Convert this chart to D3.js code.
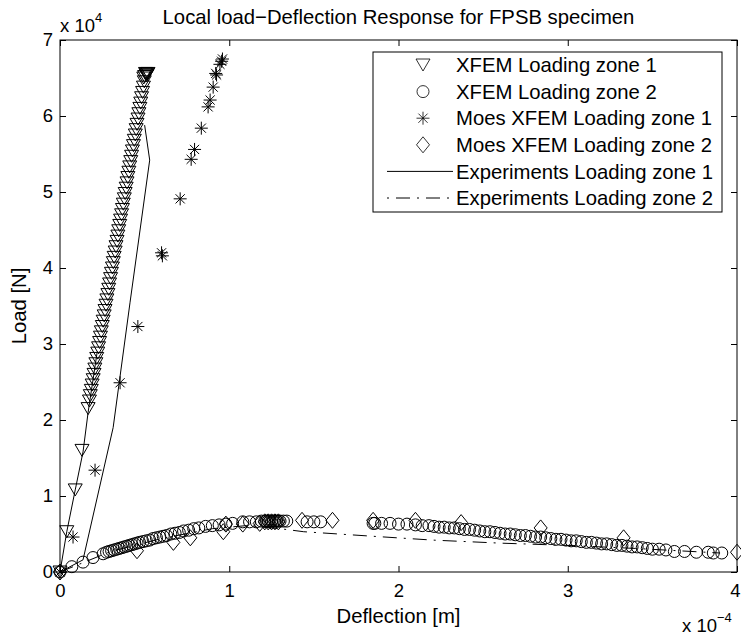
<!DOCTYPE html>
<html>
<head>
<meta charset="utf-8">
<script src="https://cdn.jsdelivr.net/npm/d3@7"></script>
<style>
  body { margin: 0; background: #fff; }
  text { font-family: "Liberation Sans", Arial, Helvetica, sans-serif; fill: #000; }
</style>
</head>
<body>
<svg id="chart" width="741" height="637"></svg>
<script>
// values (x in 1e-4 m, load in 1e4 N)
var xfem1X = [0, 0.04, 0.09, 0.13, 0.166,
  0.174, 0.179, 0.185, 0.190, 0.196, 0.201, 0.206, 0.212, 0.217, 0.223,
  0.228, 0.234, 0.239, 0.244, 0.250, 0.255, 0.261, 0.266, 0.272, 0.277,
  0.283, 0.288, 0.293, 0.299, 0.304, 0.310, 0.315, 0.320, 0.326, 0.331,
  0.337, 0.342, 0.347, 0.353, 0.358, 0.364, 0.369, 0.374, 0.380, 0.385,
  0.391, 0.396, 0.401, 0.407, 0.412, 0.418, 0.423, 0.428, 0.434, 0.439,
  0.445, 0.450, 0.455, 0.461, 0.466, 0.472, 0.477, 0.482, 0.488, 0.493,
  0.498, 0.50, 0.51, 0.52, 0.505, 0.515, 0.495, 0.512];
var xfem1Y = [0, 0.53, 1.08, 1.6, 2.15,
  2.25, 2.32, 2.39, 2.46, 2.53, 2.60, 2.67, 2.74, 2.81, 2.88,
  2.95, 3.02, 3.09, 3.16, 3.23, 3.30, 3.37, 3.44, 3.51, 3.58,
  3.65, 3.72, 3.79, 3.86, 3.93, 4.00, 4.07, 4.14, 4.21, 4.28,
  4.35, 4.42, 4.49, 4.56, 4.63, 4.70, 4.77, 4.84, 4.91, 4.98,
  5.05, 5.12, 5.19, 5.26, 5.33, 5.40, 5.47, 5.54, 5.61, 5.68,
  5.75, 5.82, 5.89, 5.96, 6.03, 6.10, 6.17, 6.24, 6.31, 6.38,
  6.45, 6.52, 6.55, 6.56, 6.56, 6.55, 6.5, 6.53];

var xfem2X = [0, 0.07, 0.136, 0.195, 0.255, 0.275, 0.29, 0.305, 0.32, 0.335,
  0.35, 0.365, 0.38, 0.395, 0.41, 0.425, 0.44, 0.455, 0.47, 0.49,
  0.51, 0.53, 0.55, 0.57, 0.59, 0.61, 0.63, 0.655, 0.68, 0.705,
  0.73, 0.76, 0.79, 0.82, 0.86, 0.9, 0.94, 0.98, 1.02, 1.08,
  1.12, 1.16, 1.19, 1.21, 1.22, 1.23, 1.24, 1.25, 1.26, 1.27,
  1.28, 1.29, 1.3, 1.32, 1.34, 1.46, 1.5, 1.54,
  1.85, 1.86, 1.9, 1.95, 2.0, 2.05, 2.1, 2.14, 2.18, 2.21,
  2.24, 2.27, 2.3, 2.33, 2.36, 2.39, 2.42, 2.45, 2.48, 2.51,
  2.54, 2.57, 2.6, 2.63, 2.66, 2.69, 2.72, 2.75, 2.78, 2.81,
  2.84, 2.87, 2.9, 2.93, 2.96, 2.99, 3.02, 3.05, 3.08, 3.11,
  3.14, 3.17, 3.2, 3.23, 3.26, 3.29, 3.32, 3.35, 3.38, 3.41,
  3.44, 3.47, 3.5, 3.54, 3.58, 3.63, 3.69, 3.76, 3.83, 3.86, 3.91];
var xfem2Y = [0, 0.07, 0.13, 0.19, 0.24, 0.26, 0.27, 0.28, 0.29, 0.3,
  0.31, 0.32, 0.33, 0.34, 0.35, 0.36, 0.37, 0.38, 0.39, 0.4,
  0.41, 0.42, 0.44, 0.45, 0.46, 0.47, 0.48, 0.5, 0.51, 0.52,
  0.54, 0.55, 0.57, 0.58, 0.6, 0.61, 0.62, 0.63, 0.64, 0.66,
  0.66, 0.66, 0.67, 0.67, 0.67, 0.67, 0.67, 0.67, 0.67, 0.67,
  0.67, 0.67, 0.67, 0.67, 0.67, 0.66, 0.66, 0.66,
  0.64, 0.64, 0.64, 0.64, 0.63, 0.63, 0.62, 0.61, 0.61, 0.6,
  0.59, 0.59, 0.58, 0.58, 0.57, 0.56, 0.56, 0.55, 0.54, 0.53,
  0.53, 0.52, 0.51, 0.5, 0.5, 0.49, 0.48, 0.48, 0.47, 0.46,
  0.46, 0.45, 0.44, 0.43, 0.43, 0.42, 0.41, 0.41, 0.4, 0.39,
  0.39, 0.38, 0.37, 0.37, 0.36, 0.35, 0.35, 0.34, 0.33, 0.33,
  0.32, 0.31, 0.3, 0.3, 0.29, 0.27, 0.27, 0.26, 0.26, 0.25, 0.25];

var moes1X = [0, 0.077, 0.207, 0.355, 0.46, 0.6, 0.605, 0.71, 0.775, 0.795,
  0.835, 0.875, 0.887, 0.905, 0.925, 0.92, 0.945, 0.955, 0.96];
var moes1Y = [0, 0.46, 1.34, 2.49, 3.23, 4.2, 4.16, 4.91, 5.43, 5.56,
  5.84, 6.12, 6.21, 6.38, 6.54, 6.56, 6.68, 6.72, 6.75];

var moes2X = [0, 0.455, 0.67, 0.77, 0.965, 0.98, 1.08, 1.18, 1.21, 1.23,
  1.25, 1.27, 1.29, 1.43, 1.61, 1.85, 2.1, 2.37, 2.84, 3.33, 4.0];
var moes2Y = [0, 0.28, 0.39, 0.45, 0.53, 0.63, 0.63, 0.64, 0.66, 0.66,
  0.66, 0.66, 0.66, 0.68, 0.68, 0.68, 0.68, 0.65, 0.58, 0.45, 0.26];

var exp1X = [0.5, 0.53, 0.414, 0.314, 0.136, 0, 0.04, 0.09, 0.136, 0.166, 0.22];
var exp1Y = [5.88, 5.42, 3.55, 1.9, 0.16, 0, 0.53, 1.08, 1.58, 2.1, 2.9];

var exp2X = [0, 0.3, 0.6, 0.9, 1.1, 1.3, 1.44, 1.85, 2.2, 2.6, 3.0, 3.4, 3.9];
var exp2Y = [0, 0.27, 0.44, 0.57, 0.61, 0.57, 0.53, 0.47, 0.42, 0.38, 0.35, 0.31, 0.25];

var xTicks = [0, 1, 2, 3, 4];
var yTicks = [0, 1, 2, 3, 4, 5, 6, 7];
var legendNames = ["XFEM Loading zone 1", "XFEM Loading zone 2", "Moes XFEM Loading zone 1",
  "Moes XFEM Loading zone 2", "Experiments Loading zone 1", "Experiments Loading zone 2"];

var svg = d3.select("#chart");
// plot box edges
var boxL = 60, boxR = 737, boxT = 40, boxB = 572;

var x = d3.scaleLinear().domain([0, 4]).range([boxL, boxR]);
var y = d3.scaleLinear().domain([0, 7]).range([boxB, boxT]);

function zip(xs, ys) {
  return xs.map(function(v, i) { return [v, ys[i]]; });
}

// marker shapes, MATLAB style
var markers = {
  tri: "M-7,-6L7,-6L0,6Z",
  circ: d3.symbol().type(d3.symbolCircle).size(Math.PI * 36)(),
  star: "M-6.5,0H6.5M0,-6.5V6.5M-4.6,-4.6L4.6,4.6M-4.6,4.6L4.6,-4.6",
  dia: "M0,-8L6.5,0L0,8L-6.5,0Z"
};

var tickFont = "18.5px";
var labelFont = "20.3px";

// axes with inward ticks
svg.append("g")
    .attr("transform", "translate(0," + boxB + ")")
    .call(d3.axisBottom(x).tickValues(xTicks).tickFormat(d3.format("d"))
        .tickSizeInner(-6).tickSizeOuter(0).tickPadding(12))
    .call(function(g) { g.select(".domain").remove(); })
    .call(function(g) {
      // keep the last label inside the window
      g.selectAll(".tick text").filter(function(d) { return d === 4; }).attr("dx", -2);
    });

svg.append("g")
    .attr("transform", "translate(" + boxL + ",0)")
    .call(d3.axisLeft(y).tickValues(yTicks).tickFormat(d3.format("d"))
        .tickSizeInner(-6).tickSizeOuter(0).tickPadding(7))
    .call(function(g) { g.select(".domain").remove(); });

svg.append("g")
    .attr("transform", "translate(0," + boxT + ")")
    .call(d3.axisTop(x).tickValues(xTicks).tickFormat("").tickSizeInner(-6).tickSizeOuter(0))
    .call(function(g) { g.select(".domain").remove(); });

svg.append("g")
    .attr("transform", "translate(" + boxR + ",0)")
    .call(d3.axisRight(y).tickValues(yTicks).tickFormat("").tickSizeInner(-6).tickSizeOuter(0))
    .call(function(g) { g.select(".domain").remove(); });

svg.selectAll(".tick text")
    .style("font-size", tickFont)
    .style("font-family", "'Liberation Sans', Arial, sans-serif")
    .attr("fill", "#000");
svg.selectAll(".tick line").attr("stroke", "#000");

svg.append("rect")
    .attr("x", boxL).attr("y", boxT)
    .attr("width", boxR - boxL).attr("height", boxB - boxT)
    .attr("fill", "none").attr("stroke", "#000").attr("stroke-width", 1);

// markers
var series = [
  { pts: zip(xfem1X, xfem1Y), m: markers.tri },
  { pts: zip(xfem2X, xfem2Y), m: markers.circ },
  { pts: zip(moes1X, moes1Y), m: markers.star },
  { pts: zip(moes2X, moes2Y), m: markers.dia }
];

var plot = svg.append("g");

series.forEach(function(s) {
  plot.append("g").selectAll("path")
      .data(s.pts)
      .enter()
      .append("path")
      .attr("d", s.m)
      .attr("transform", function(d) { return "translate(" + x(d[0]) + "," + y(d[1]) + ")"; })
      .attr("fill", "none")
      .attr("stroke", "#000")
      .attr("stroke-width", 1);
});

var line = d3.line()
    .x(function(d) { return x(d[0]); })
    .y(function(d) { return y(d[1]); });

plot.append("path")
    .datum(zip(exp1X, exp1Y))
    .attr("d", line)
    .attr("fill", "none").attr("stroke", "#000").attr("stroke-width", 1);

plot.append("path")
    .datum(zip(exp2X, exp2Y))
    .attr("d", line)
    .attr("fill", "none").attr("stroke", "#000").attr("stroke-width", 1)
    .attr("stroke-dasharray", "14,7,2,7");

// titles and labels
svg.append("text")
    .attr("x", (boxL + boxR) / 2).attr("y", 24)
    .attr("text-anchor", "middle")
    .style("font-size", labelFont)
    .text("Local load\u2212Deflection Response for FPSB specimen");

svg.append("text")
    .attr("x", (boxL + boxR) / 2).attr("y", 623)
    .attr("text-anchor", "middle")
    .style("font-size", labelFont)
    .text("Deflection [m]");

svg.append("text")
    .attr("transform", "translate(26," + (boxT + boxB) / 2 + ") rotate(-90)")
    .attr("text-anchor", "middle")
    .style("font-size", labelFont)
    .text("Load [N]");

// exponent labels
var e1 = svg.append("text").attr("x", 60).attr("y", 32).style("font-size", tickFont);
e1.append("tspan").text("x 10");
e1.append("tspan").attr("dy", -10).style("font-size", "13px").text("4");

var e2 = svg.append("text").attr("x", 682).attr("y", 632).style("font-size", tickFont);
e2.append("tspan").text("x 10");
e2.append("tspan").attr("dy", -10).style("font-size", "13px").text("\u22124");

// legend
var legend = svg.append("g");
legend.append("rect")
    .attr("x", 373).attr("y", 52).attr("width", 349).attr("height", 160)
    .attr("fill", "#fff").attr("stroke", "#000").attr("stroke-width", 1);

var rowY = d3.scalePoint().domain(d3.range(legendNames.length)).range([65, 198]);
var legendMarks = [markers.tri, markers.circ, markers.star, markers.dia, null, null];

legendNames.forEach(function(name, i) {
  var yy = rowY(i);
  if (legendMarks[i]) {
    legend.append("path")
        .attr("d", legendMarks[i])
        .attr("transform", "translate(423," + yy + ")")
        .attr("fill", "none").attr("stroke", "#000").attr("stroke-width", 0.8);
  } else {
    legend.append("line")
        .attr("x1", 387).attr("x2", 453).attr("y1", yy).attr("y2", yy)
        .attr("stroke", "#000").attr("stroke-width", 1)
        .attr("stroke-dasharray", i === 5 ? "2,7,14,7" : null);
  }
  legend.append("text")
      .attr("x", 456).attr("y", yy).attr("dy", "0.35em")
      .style("font-size", labelFont)
      .text(name);
});
</script>
</body>
</html>
